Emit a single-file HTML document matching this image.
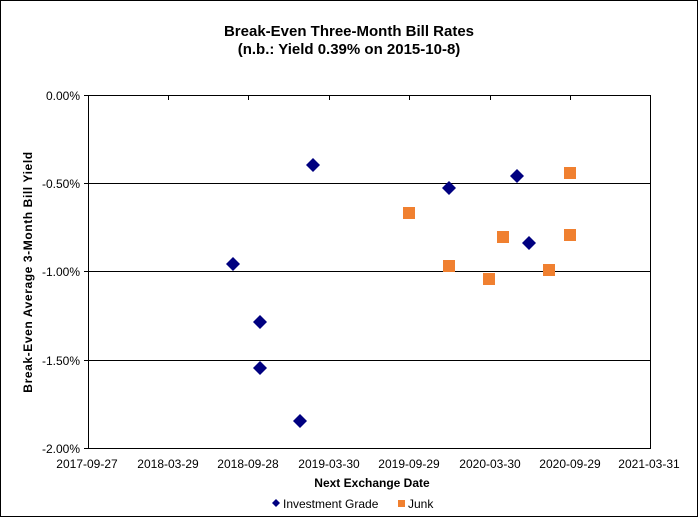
<!DOCTYPE html>
<html><head><style>
body{margin:0;background:#fff;}
svg text{font-family:"Liberation Sans",Arial,sans-serif;}
</style></head><body>
<svg width="698" height="517" xmlns="http://www.w3.org/2000/svg">
<rect x="0.5" y="0.5" width="697" height="516" fill="#fff" stroke="#000"/>
<text x="349" y="36" text-anchor="middle" font-size="15" font-weight="bold">Break-Even Three-Month Bill Rates</text>
<text x="349" y="54" text-anchor="middle" font-size="15" font-weight="bold">(n.b.: Yield 0.39% on 2015-10-8)</text>
<rect x="88.5" y="95.5" width="562" height="353" fill="#fff" stroke="#000"/>
<g stroke="#000" stroke-width="1">
<line x1="88" y1="183.5" x2="651" y2="183.5"/>
<line x1="88" y1="271.5" x2="651" y2="271.5"/>
<line x1="88" y1="360.5" x2="651" y2="360.5"/>
<line x1="84" y1="95.5" x2="88" y2="95.5"/>
<line x1="84" y1="183.5" x2="88" y2="183.5"/>
<line x1="84" y1="271.5" x2="88" y2="271.5"/>
<line x1="84" y1="360.5" x2="88" y2="360.5"/>
<line x1="84" y1="448.5" x2="88" y2="448.5"/>
<line x1="168.5" y1="96" x2="168.5" y2="100"/>
<line x1="248.5" y1="96" x2="248.5" y2="100"/>
<line x1="329.5" y1="96" x2="329.5" y2="100"/>
<line x1="409.5" y1="96" x2="409.5" y2="100"/>
<line x1="490.5" y1="96" x2="490.5" y2="100"/>
<line x1="570.5" y1="96" x2="570.5" y2="100"/>
</g>
<g font-size="12" text-anchor="end">
<text x="80" y="100">0.00%</text>
<text x="80" y="188">-0.50%</text>
<text x="80" y="276">-1.00%</text>
<text x="80" y="365">-1.50%</text>
<text x="80" y="453">-2.00%</text>
</g>
<g font-size="12" text-anchor="middle">
<text x="87" y="468">2017-09-27</text>
<text x="168" y="468">2018-03-29</text>
<text x="248" y="468">2018-09-28</text>
<text x="329" y="468">2019-03-30</text>
<text x="409" y="468">2019-09-29</text>
<text x="490" y="468">2020-03-30</text>
<text x="570" y="468">2020-09-29</text>
<text x="649" y="468">2021-03-31</text>
</g>
<text x="372" y="487" text-anchor="middle" font-size="12" font-weight="bold">Next Exchange Date</text>
<text transform="translate(32,272) rotate(-90)" text-anchor="middle" font-size="12" font-weight="bold" letter-spacing="0.6">Break-Even Average 3-Month  Bill Yield</text>
<g fill="#000080">
<path d="M233,257l7,7l-7,7l-7,-7z"/>
<path d="M260,315l7,7l-7,7l-7,-7z"/>
<path d="M260,361l7,7l-7,7l-7,-7z"/>
<path d="M300,414l7,7l-7,7l-7,-7z"/>
<path d="M313,158l7,7l-7,7l-7,-7z"/>
<path d="M449,181l7,7l-7,7l-7,-7z"/>
<path d="M517,169l7,7l-7,7l-7,-7z"/>
<path d="M529,236l7,7l-7,7l-7,-7z"/>
</g>
<g fill="#f08030">
<rect x="403" y="207" width="12" height="12"/>
<rect x="443" y="260" width="12" height="12"/>
<rect x="483" y="273" width="12" height="12"/>
<rect x="497" y="231" width="12" height="12"/>
<rect x="543" y="264" width="12" height="12"/>
<rect x="564" y="167" width="12" height="12"/>
<rect x="564" y="229" width="12" height="12"/>
</g>
<path d="M276,499l4,4l-4,4l-4,-4z" fill="#000080"/>
<text x="283" y="508" font-size="12">Investment Grade</text>
<rect x="398" y="500" width="7" height="7" fill="#f08030"/>
<text x="408" y="508" font-size="12">Junk</text>
</svg>
</body></html>
